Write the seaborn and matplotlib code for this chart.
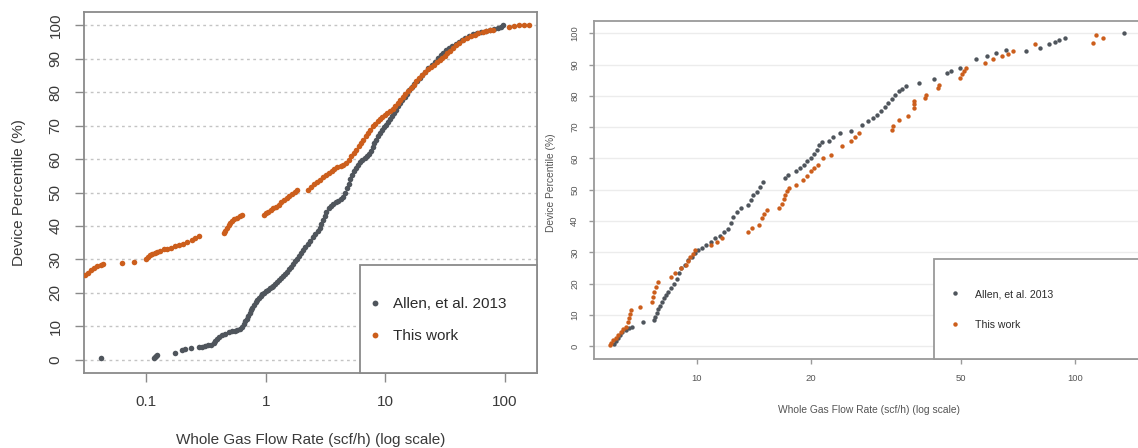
import matplotlib
matplotlib.use("Agg")
import matplotlib.pyplot as plt
from matplotlib.patches import Rectangle
import seaborn as sns

# ---- Panel A: full range of measured flow rates ----
allen_a_flow = [0.042,
                0.116, 0.119, 0.121, 0.124,
                0.174, 0.198, 0.212, 0.236,
                0.275, 0.292, 0.310, 0.330, 0.350,
                0.368, 0.380, 0.392, 0.405,
                0.43, 0.46, 0.49, 0.52, 0.55, 0.58, 0.61,
                0.635, 0.655, 0.675, 0.695, 0.715, 0.735, 0.755, 0.775, 0.80, 0.825,
                0.85, 0.88, 0.91, 0.94, 0.97,
                1.00, 1.04, 1.08, 1.12, 1.16, 1.20, 1.25, 1.30, 1.35, 1.40, 1.45,
                1.50, 1.56, 1.62, 1.68, 1.75, 1.82, 1.90, 1.98, 2.06, 2.15, 2.25,
                2.36, 2.48, 2.60, 2.72, 2.82, 2.92, 3.02, 3.12, 3.22, 3.35, 3.50,
                3.68, 3.86, 4.05, 4.25, 4.45, 4.62, 4.78, 4.94, 5.10, 5.28, 5.46,
                5.66, 5.88, 6.12, 6.40, 6.70, 7.00, 7.30, 7.60, 7.85, 8.10, 8.40,
                8.70, 9.00, 9.35, 9.70, 10.1, 10.5, 10.9, 11.3, 11.8, 12.3, 12.8,
                13.3, 13.9, 14.5, 15.2, 15.9, 16.6, 17.4, 18.3, 19.3, 20.4, 21.6,
                22.9, 24.3, 25.8, 27.4, 29.0, 30.6, 32.3, 34.2, 36.3, 38.6, 41.0,
                43.6, 46.5, 50.0, 54.0, 58.5, 63.5, 69.0, 75.0, 81.0, 87.0, 92.0,
                96.0]
allen_a_pct = [0.4,
               0.6, 0.9, 1.1, 1.4,
               2.0, 2.9, 3.3, 3.6,
               3.8, 3.9, 4.1, 4.3, 4.5,
               5.0, 5.6, 6.2, 6.8,
               7.3, 7.8, 8.2, 8.5, 8.7, 8.9, 9.2,
               9.9, 10.7, 11.5, 12.3, 13.1, 13.9, 14.7, 15.5, 16.3, 17.1,
               17.8, 18.5, 19.1, 19.6, 20.0,
               20.4, 20.9, 21.3, 21.7, 22.1, 22.6, 23.2, 23.8, 24.4, 25.0, 25.6,
               26.3, 27.0, 27.8, 28.6, 29.4, 30.2, 31.1, 32.0, 32.9, 33.8, 34.7,
               35.6, 36.6, 37.5, 38.4, 39.5, 40.7, 41.8, 43.0, 44.2, 45.3, 46.0,
               46.6, 47.1, 47.6, 48.1, 48.8, 50.0, 51.3, 52.6, 54.0, 55.3, 56.4,
               57.4, 58.3, 59.0, 59.6, 60.2, 60.8, 61.5, 62.4, 63.5, 64.7, 65.8,
               66.8, 67.8, 68.7, 69.5, 70.3, 71.1, 71.9, 72.8, 73.8, 74.8, 75.8,
               76.8, 77.7, 78.6, 79.6, 80.6, 81.5, 82.4, 83.3, 84.2, 85.1, 86.1,
               87.1, 88.1, 89.1, 90.1, 91.0, 91.8, 92.5, 93.1, 93.8, 94.5, 95.1,
               95.7, 96.3, 96.9, 97.4, 97.8, 98.1, 98.4, 98.6, 98.8, 99.2, 99.6,
               100.0]

work_a_flow = [0.031, 0.033, 0.035, 0.037, 0.039, 0.042, 0.044,
               0.0626, 0.079,
               0.100, 0.104, 0.108, 0.113, 0.118, 0.124, 0.131,
               0.140, 0.150, 0.162, 0.176, 0.190, 0.204,
               0.222, 0.240, 0.258, 0.278,
               0.445, 0.460, 0.475, 0.490, 0.505, 0.525, 0.548, 0.575, 0.605, 0.630,
               0.96, 1.00, 1.05, 1.10, 1.16, 1.22, 1.28, 1.35, 1.42, 1.50, 1.58,
               1.66, 1.75, 1.82,
               2.25, 2.40, 2.55, 2.70, 2.85, 3.00, 3.18, 3.36, 3.55, 3.75, 3.98,
               4.22, 4.46, 4.70, 4.95, 5.20, 5.45, 5.70, 5.98, 6.25, 6.55, 6.85,
               7.15, 7.50, 7.85, 8.20, 8.60, 9.00, 9.45, 9.90, 10.4, 10.9, 11.5,
               12.1, 12.7, 13.3, 14.0, 14.7, 15.5, 16.3, 17.2, 18.1, 19.1, 20.2,
               21.4, 22.6, 24.0, 25.5, 27.0, 28.5, 30.0, 31.5, 33.0, 34.8, 36.8,
               39.0, 41.5, 44.5, 48.0, 52.0, 56.0, 60.0, 65.0, 70.0, 75.0, 80.0,
               107.0, 118.0, 130.0, 145.0, 160.0]
work_a_pct = [25.2, 26.0, 26.8, 27.4, 28.0, 28.4, 28.7,
              28.9, 29.2,
              30.2, 30.8, 31.3, 31.7, 32.0, 32.3, 32.6,
              33.0, 33.2, 33.5, 33.9, 34.3, 34.6,
              35.2, 35.8, 36.4, 37.0,
              37.8, 38.6, 39.4, 40.2, 40.9, 41.5, 42.0, 42.5, 43.0, 43.3,
              43.4, 43.8, 44.3, 44.8, 45.3, 45.8, 46.4, 47.1, 47.7, 48.3, 48.9,
              49.5, 50.2, 50.6,
              50.8, 51.6, 52.4, 53.1, 53.8, 54.5, 55.2, 55.9, 56.5, 57.0, 57.5,
              57.8, 58.2, 58.9, 59.8, 60.8, 61.8, 62.8, 63.8, 64.8, 65.8, 66.8,
              67.8, 68.8, 69.8, 70.6, 71.3, 71.9, 72.6, 73.2, 73.7, 74.3, 75.0,
              75.8, 76.7, 77.6, 78.5, 79.4, 80.3, 81.3, 82.3, 83.3, 84.3, 85.2,
              86.0, 86.8, 87.5, 88.2, 88.9, 89.5, 90.2, 90.9, 91.6, 92.4, 93.2,
              94.0, 94.8, 95.5, 96.1, 96.7, 97.2, 97.6, 98.0, 98.3, 98.5, 98.7,
              99.6, 99.8, 100.0, 100.0, 100.0]

# ---- Panel B: devices above 5 scf/h ----
allen_b_flow = [6.04, 6.10, 6.18, 6.27, 6.36, 6.50, 6.62, 6.75, 7.20, 7.70,
                7.78, 7.85, 7.92, 8.00, 8.08, 8.18, 8.30, 8.42, 8.55, 8.70,
                8.85, 8.98, 9.10, 9.30, 9.50, 9.70, 9.90, 10.1, 10.3, 10.6,
                10.9, 11.2, 11.5, 11.8, 12.1, 12.3, 12.5, 12.8, 13.1, 13.7,
                13.9, 14.1, 14.4, 14.7, 15.0, 17.1, 17.4, 18.3, 18.8, 19.2,
                19.6, 20.0, 20.4, 20.8, 21.1, 21.4, 22.4, 23.0, 24.0, 25.6,
                27.4, 28.3, 29.2, 30.0, 30.7, 31.4, 32.1, 32.8, 33.5, 34.3,
                35.0, 35.8, 38.8, 42.4, 45.9, 47.0, 49.6, 54.9, 58.7, 62.0,
                65.7, 74.4, 81.0, 85.7, 88.5, 91.0, 94.0, 135.0]
allen_b_pct = [0.8, 1.8, 2.8, 3.7, 4.5, 5.1, 5.7, 6.2, 7.8, 8.3,
               9.4, 10.6, 11.8, 13.0, 14.2, 15.3, 16.4, 17.4, 18.5, 19.8,
               21.6, 23.4, 24.9, 26.0, 27.4, 28.6, 29.8, 30.6, 31.5, 32.4,
               33.4, 34.5, 35.3, 36.4, 37.6, 39.5, 41.2, 43.0, 44.1, 45.2,
               46.6, 48.2, 49.4, 50.8, 52.6, 53.7, 54.8, 55.9, 56.9, 58.0,
               59.1, 60.1, 61.5, 62.8, 64.2, 65.4, 65.6, 66.8, 68.2, 68.7,
               70.8, 71.9, 73.0, 74.0, 75.1, 76.4, 77.8, 79.1, 80.4, 81.5,
               82.2, 83.1, 84.2, 85.3, 87.4, 87.9, 89.0, 91.7, 92.7, 93.6,
               94.6, 94.3, 95.4, 96.5, 97.2, 97.9, 98.6, 100.0]

work_b_flow = [5.90, 5.95, 6.02, 6.10, 6.18, 6.30, 6.40, 6.50, 6.58, 6.62,
               6.66, 6.70, 7.10, 7.60, 7.66, 7.72, 7.80, 7.88, 8.55, 8.75,
               9.10, 9.35, 9.50, 9.62, 9.75, 9.90, 10.9, 11.3, 11.7, 13.7,
               14.0, 14.6, 14.9, 15.1, 15.3, 16.5, 16.8, 17.0, 17.1, 17.3,
               17.5, 18.3, 19.1, 19.6, 20.0, 20.4, 20.9, 21.6, 22.6, 24.2,
               25.6, 26.2, 26.8, 32.8, 33.0, 34.3, 36.2, 37.5, 37.5, 37.6,
               40.2, 40.4, 43.4, 43.6, 49.6, 50.3, 50.9, 51.4, 58.0, 60.8,
               64.3, 66.5, 68.7, 78.5, 111.6, 113.7, 119.0]
work_b_pct = [0.3, 1.2, 2.0, 2.8, 3.5, 4.6, 5.4, 6.2, 7.8, 9.0,
              10.2, 11.5, 12.6, 14.2, 15.8, 17.4, 19.0, 20.6, 22.2, 23.5,
              24.9, 26.0, 27.2, 28.4, 29.6, 30.8, 32.4, 33.4, 34.5, 36.6,
              37.7, 38.8, 40.9, 42.2, 43.6, 44.1, 45.5, 47.0, 48.4, 49.5,
              50.5, 51.6, 53.2, 54.3, 55.9, 57.0, 58.0, 60.1, 61.2, 63.9,
              65.5, 66.8, 68.2, 69.2, 70.5, 72.4, 73.5, 76.2, 77.3, 78.3,
              79.4, 80.4, 82.6, 83.6, 85.8, 87.0, 88.0, 89.0, 90.6, 91.7,
              92.7, 93.5, 94.3, 96.5, 96.9, 99.4, 98.5]

series_labels = ["Allen, et al. 2013", "This work"]
pct_ticks = [0, 10, 20, 30, 40, 50, 60, 70, 80, 90, 100]
a_flow_ticks = [0.1, 1, 10, 100]
a_flow_ticklabels = ["0.1", "1", "10", "100"]
b_flow_ticks = [10, 20, 50, 100]
b_flow_ticklabels = ["10", "20", "50", "100"]
x_title = "Whole Gas Flow Rate (scf/h) (log scale)"
y_title = "Device Percentile (%)"

ALLEN_COLOR = "#4f555c"
WORK_COLOR = "#cc5e1c"
SERIES_COLORS = [ALLEN_COLOR, WORK_COLOR]

sns.set_style("white")
plt.rcParams["font.family"] = ["Liberation Sans", "DejaVu Sans"]

fig = plt.figure(figsize=(11.38, 4.48), dpi=100)
ax_a = fig.add_axes([0.07381, 0.16741, 0.39807, 0.80580])
ax_b = fig.add_axes([0.52197, 0.19911, 0.49033, 0.75469])


def style_panel(ax, xlim, xticks, xticklabels, fs_tick, spine_col,
                text_col, tick_len, tick_pad, grid_kw):
    ax.set_xscale("log")
    ax.set_xlim(*xlim)
    ax.set_ylim(-4, 104)
    ax.set_xticks(xticks)
    ax.set_xticklabels(xticklabels)
    ax.xaxis.set_minor_locator(matplotlib.ticker.NullLocator())
    ax.set_yticks(pct_ticks)
    ax.set_yticklabels([str(v) for v in pct_ticks])
    ax.tick_params(axis="both", direction="out", length=tick_len, width=1,
                   color=spine_col, labelsize=fs_tick, labelcolor=text_col,
                   pad=tick_pad, bottom=True, left=True)
    plt.setp(ax.get_yticklabels(), rotation=90, va="center")
    for sp in ax.spines.values():
        sp.set_visible(True)
        sp.set_color(spine_col)
        sp.set_linewidth(1.3)
    ax.set_axisbelow(True)
    ax.yaxis.grid(True, **grid_kw)
    ax.xaxis.grid(False)


def draw_series(ax, flows, pcts, size):
    # Earlier series first so that "This work" sits on top where they overlap
    for fx, py, lab, col in zip(flows, pcts, series_labels, SERIES_COLORS):
        sns.scatterplot(x=fx, y=py, ax=ax, color=col, s=size, linewidth=0,
                        label=lab, legend=False, zorder=3)


def legend_box(ax, x0, top, marker_x, center_y, fs, spacing, textpad, msize):
    ax.add_patch(Rectangle((x0, 0), 1.0 - x0, top, transform=ax.transAxes,
                           facecolor="white",
                           edgecolor=ax.spines["left"].get_edgecolor(),
                           linewidth=1.3, zorder=4, clip_on=False))
    handles = [plt.Line2D([], [], linestyle="none", marker="o", markersize=msize,
                          markerfacecolor=c, markeredgewidth=0)
               for c in SERIES_COLORS]
    leg = ax.legend(handles, series_labels, loc="center left",
                    bbox_to_anchor=(marker_x, center_y), frameon=False,
                    fontsize=fs, handlelength=1.0, handletextpad=textpad,
                    labelspacing=spacing, borderpad=0, borderaxespad=0)
    leg.set_zorder(5)
    for t in leg.get_texts():
        t.set_color("#2b2b2b")
    return leg


# Panel A: all devices
style_panel(ax_a, (0.0303, 185), a_flow_ticks, a_flow_ticklabels, 11,
            "#8a8a8a", "#3a3a3a", 6.5, 9.0,
            dict(color="#c4c4c4", linestyle=(0, (2, 2.5)), linewidth=1.0))
draw_series(ax_a, [allen_a_flow, work_a_flow], [allen_a_pct, work_a_pct], 16)
ax_a.set_xlabel(x_title, fontsize=11, color="#3a3a3a")
ax_a.set_ylabel(y_title, fontsize=11, color="#3a3a3a")
ax_a.xaxis.set_label_coords(0.5, -0.166)
ax_a.yaxis.set_label_coords(-0.128, 0.5)
legend_box(ax_a, 0.609, 0.299, 0.6255, 0.147, 11, 1.18, 0.68, 4.2)

# Panel B: devices above 5 scf/h
style_panel(ax_b, (5.35, 160), b_flow_ticks, b_flow_ticklabels, 6.8,
            "#9a9a9a", "#555555", 3.6, 7.0,
            dict(color="#ececec", linestyle="-", linewidth=1.0))
draw_series(ax_b, [allen_b_flow, work_b_flow], [allen_b_pct, work_b_pct], 10)
ax_b.set_xlabel(x_title, fontsize=7.4, color="#555555")
ax_b.set_ylabel(y_title, fontsize=7.4, color="#555555")
ax_b.xaxis.set_label_coords(0.493, -0.137)
ax_b.yaxis.set_label_coords(-0.068, 0.52)
legend_box(ax_b, 0.609, 0.295, 0.6375, 0.146, 7.6, 1.95, 1.39, 3.2)

fig.savefig("out.png", dpi=100, facecolor="white")
